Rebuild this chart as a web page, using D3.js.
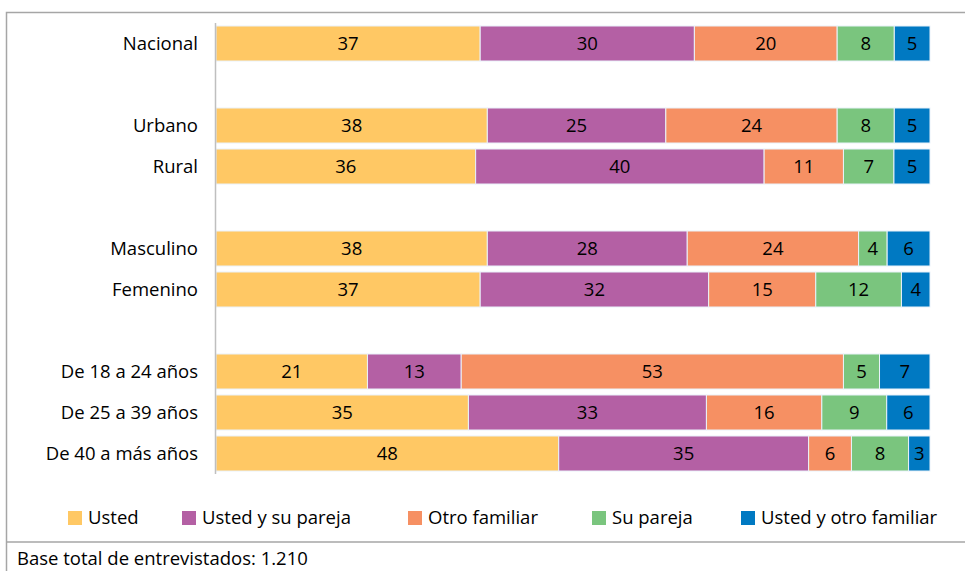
<!DOCTYPE html>
<html>
<head>
<meta charset="utf-8">
<script src="https://cdn.jsdelivr.net/npm/d3@7"></script>
<style>
body { margin: 0; background: #fff; }
text { font-family: "Open Sans", "Noto Sans", sans-serif; fill: #000; }
</style>
</head>
<body>
<div id="chart"></div>
<script>
// categories (blank strings are the gaps between groups)
var categories = ["Nacional", "", "Urbano", "Rural", " ", "Masculino", "Femenino", "  ", "De 18 a 24 años", "De 25 a 39 años", "De 40 a más años"];
var series = ["Usted", "Usted y su pareja", "Otro familiar", "Su pareja", "Usted y otro familiar"];
var colors = ["#ffc864", "#b460a4", "#f69063", "#7ac57e", "#0079c2"];

var usted        = [37, null, 38, 36, null, 38, 37, null, 21, 35, 48];
var ustedPareja  = [30, null, 25, 40, null, 28, 32, null, 13, 33, 35];
var otroFamiliar = [20, null, 24, 11, null, 24, 15, null, 53, 16, 6];
var suPareja     = [8, null, 8, 7, null, 4, 12, null, 5, 9, 8];
var ustedOtro    = [5, null, 5, 5, null, 6, 4, null, 7, 6, 3];

var footnote = "Base total de entrevistados: 1.210";

var width = 965, height = 571;
var fontSize = "18.5px";

var rows = categories.map(function(c, i) {
	return {cat: c, values: [usted[i], ustedPareja[i], otroFamiliar[i], suPareja[i], ustedOtro[i]]};
}).filter(function(d) { return d.values[0] != null; });

var svg = d3.select("#chart")
.append("svg")
.attr("width", width)
.attr("height", height);

// outer frame
svg.append("path")
.attr("d", "M1000,12.5H6.5V571M6.5,542H1000")
.attr("fill", "none")
.attr("stroke", "#a6a6a6")
.attr("stroke-width", 1.5);

var xScale = d3.scaleLinear()
.domain([0, 1])
.range([216, 930]);

var yScale = d3.scaleBand()
.domain(categories)
.range([23, 474])
.paddingInner(0.146)
.paddingOuter(0.073);

var rowGroups = svg.selectAll(".row")
.data(rows)
.enter()
.append("g")
.attr("class", "row");

rowGroups.each(function(d) {
	var g = d3.select(this);
	var total = d3.sum(d.values);
	var acc = 0;
	// 100% stacked, like the source chart
	var segs = d.values.map(function(v, j) {
		var s = {x0: acc / total, x1: (acc + v) / total, value: v, j: j};
		acc += v;
		return s;
	});

	g.selectAll("rect")
	.data(segs)
	.enter()
	.append("rect")
	.attr("x", function(s) { return xScale(s.x0); })
	.attr("y", yScale(d.cat))
	.attr("width", function(s) { return xScale(s.x1) - xScale(s.x0); })
	.attr("height", yScale.bandwidth())
	.attr("fill", function(s) { return colors[s.j]; })
	.attr("stroke", "#eaf2fa")
	.attr("stroke-width", 1);

	g.selectAll(".value_text")
	.data(segs)
	.enter()
	.append("text")
	.attr("class", "value_text")
	.text(function(s) { return s.value; })
	.attr("x", function(s) { return (xScale(s.x0) + xScale(s.x1)) / 2; })
	.attr("y", yScale(d.cat) + yScale.bandwidth() / 2)
	.attr("dy", "0.35em")
	.attr("text-anchor", "middle")
	.attr("font-size", fontSize);
});

// category labels
svg.selectAll(".label_text")
.data(rows)
.enter()
.append("text")
.attr("class", "label_text")
.text(function(d) { return d.cat; })
.attr("x", 198)
.attr("y", function(d) { return yScale(d.cat) + yScale.bandwidth() / 2; })
.attr("dy", "0.35em")
.attr("text-anchor", "end")
.attr("font-size", fontSize);

// vertical axis line
svg.append("line")
.attr("x1", 215.5)
.attr("x2", 215.5)
.attr("y1", 23)
.attr("y2", 474)
.attr("stroke", "#bfbfbf")
.attr("stroke-width", 1.5);

// legend
var legendX = [68, 182, 408, 592, 741];
var legend = svg.selectAll(".legend")
.data(series)
.enter()
.append("g")
.attr("class", "legend")
.attr("transform", function(d, i) { return "translate(" + legendX[i] + ",511)"; });

legend.append("rect")
.attr("width", 14)
.attr("height", 14)
.attr("fill", function(d, i) { return colors[i]; });

legend.append("text")
.text(function(d) { return d; })
.attr("x", 20)
.attr("y", 7)
.attr("dy", "0.35em")
.attr("font-size", fontSize);

// footnote
svg.append("text")
.text(footnote)
.attr("x", 17)
.attr("y", 565)
.attr("font-size", fontSize);
</script>
</body>
</html>
